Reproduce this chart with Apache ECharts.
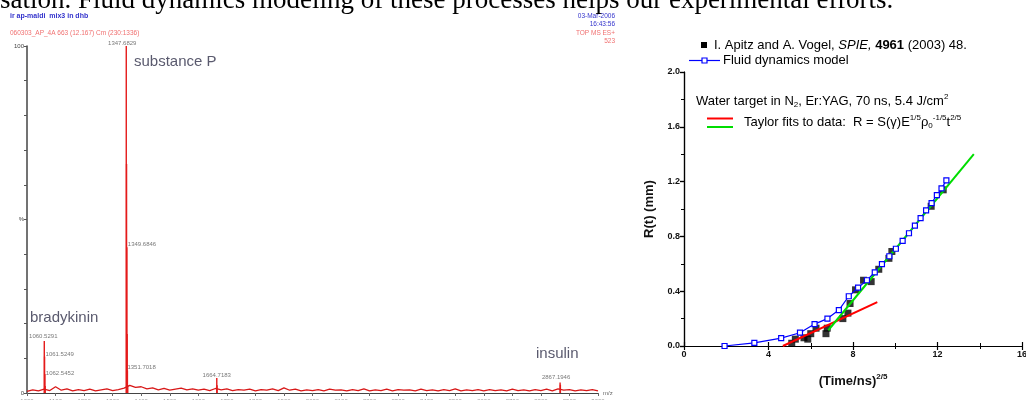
<!DOCTYPE html>
<html>
<head>
<meta charset="utf-8">
<script src="https://cdn.jsdelivr.net/npm/echarts@6/dist/echarts.min.js"></script>
<style>
html, body { margin: 0; padding: 0; background: #fff; }
#chart { width: 1026px; height: 400px; }
</style>
</head>
<body>
<div id="chart"></div>
<script>
// ---- left: MALDI spectrum (m/z, % intensity) ----
var peakMz  = [1060.5291, 1061.5249, 1062.5452, 1063.53, 1347.6829, 1348.69, 1349.6846, 1350.69, 1351.7018, 1352.70, 1664.7183, 1665.72, 2867.1946, 2868.20];
var peakPct = [15, 10.5, 5.5, 2, 100, 66, 42, 17, 6.5, 2.2, 4.3, 2.2, 3.0, 2.4];
var labelMz = [1060.5291, 1061.5249, 1062.5452, 1347.6829, 1349.6846, 1351.7018, 1664.7183, 2867.1946];
// baseline noise read every 20 Da from 1000 to 3000
var noiseMz0 = 1000, noiseDa = 20;
var noisePct = [
  0.5, 0.9, 0.6, 1.1, 0.7, 1.8, 0.8, 1.2, 0.6, 1.0,
  0.7, 1.1, 0.6, 0.9, 1.2, 0.7, 1.0, 1.4, 2.2, 1.6,
  1.8, 1.2, 1.5, 0.9, 1.3, 0.8, 1.1, 1.4, 0.9, 1.2,
  0.8, 1.1, 0.7, 1.3, 0.9, 1.2, 0.7, 1.0, 0.8, 1.1,
  0.6, 1.0, 0.8, 1.2, 0.7, 1.5, 0.8, 1.1, 0.6, 0.9,
  0.7, 1.0, 0.6, 1.1, 0.8, 0.9, 0.6, 1.0, 0.7, 1.2,
  0.6, 0.9, 0.7, 1.1, 0.6, 1.0, 0.8, 0.9, 0.6, 1.1,
  0.7, 0.9, 0.6, 1.0, 0.7, 1.2, 0.6, 0.9, 0.7, 1.0,
  0.6, 1.0, 0.7, 0.9, 0.6, 1.1, 0.7, 0.9, 0.6, 1.0,
  0.7, 1.1, 0.6, 1.2, 0.8, 1.0, 0.6, 0.9, 0.7, 1.0,
  0.6
];

// ---- right: R(t) vs (Time/ns)^2/5 ----
var apitzX = [5.1, 5.27, 5.68, 5.86, 6.0, 6.25, 6.72, 6.78, 7.52, 7.76, 7.86, 8.12, 8.5, 8.86, 9.22, 9.7, 9.84, 11.7, 12.27];
var apitzY = [0.02, 0.05, 0.06, 0.05, 0.09, 0.13, 0.09, 0.13, 0.2, 0.24, 0.31, 0.41, 0.48, 0.47, 0.56, 0.64, 0.69, 1.02, 1.14];
var modelX = [1.92, 3.33, 4.6, 5.49, 6.18, 6.79, 7.33, 7.8, 8.24, 8.66, 9.03, 9.37, 9.72, 10.03, 10.35, 10.65, 10.93, 11.2, 11.46, 11.72, 11.97, 12.19, 12.42];
var modelY = [0.0, 0.023, 0.058, 0.097, 0.16, 0.2, 0.262, 0.363, 0.426, 0.48, 0.538, 0.598, 0.655, 0.71, 0.767, 0.823, 0.878, 0.934, 0.99, 1.043, 1.102, 1.15, 1.209];
var redFitX = [4.68, 9.15], redFitY = [0, 0.32];
var greenFitX = [6.83, 13.72], greenFitY = [0.115, 1.40];

function zip(xs, ys) {
  return xs.map(function (x, i) { return [x, ys[i]]; });
}

var noiseData = noisePct.map(function (v, i) { return [noiseMz0 + i * noiseDa, v]; });
var peakData = zip(peakMz, peakPct);

// where each peak label sits (top = centred above, right = beside the stick)
var labelPlace = [
  { position: 'top', distance: 2, offset: [-1, 0] },
  { position: 'right', distance: 1, offset: [0, -2] },
  { position: 'right', distance: 1, offset: [0, -1] },
  { position: 'top', distance: 0, offset: [-4, 0] },
  { position: 'right', distance: 1, offset: [0, -3] },
  { position: 'right', distance: 0, offset: [0, -3] },
  { position: 'top', distance: 0, offset: [0, 0] },
  { position: 'top', distance: 2, offset: [-4, 0] }
];
var labelData = labelMz.map(function (m, i) {
  var pct = peakPct[peakMz.indexOf(m)];
  return { value: [m, pct], label: labelPlace[i] };
});

var supRich = {
  sup: { fontSize: 8, padding: [0, 0, 8, 0] },
  sub: { fontSize: 8, padding: [7, 0, 0, 0] }
};
var LEG = '13px "Liberation Sans", Arial';

var chart = echarts.init(document.getElementById('chart'));
chart.setOption({
  animation: false,
  textStyle: { fontFamily: 'Liberation Sans, Arial, sans-serif' },
  grid: [
    { left: 27, top: 46, width: 571, height: 347, outerBoundsMode: 'none' },
    { left: 684, top: 72, width: 338, height: 274, outerBoundsMode: 'none' }
  ],
  xAxis: [
    {
      gridIndex: 0, type: 'value', min: 1000, max: 3000, interval: 100,
      axisLine: { lineStyle: { color: '#444', width: 1 } },
      axisTick: { length: 3, lineStyle: { color: '#666' } },
      axisLabel: { fontSize: 6, color: '#999', margin: 5, formatter: function (v) { return String(v); } },
      splitLine: { show: false }
    },
    {
      gridIndex: 1, type: 'value', min: 0, max: 16, interval: 4,
      axisLine: { lineStyle: { color: '#000', width: 1.2 } },
      axisTick: { length: 4, lineStyle: { color: '#000', width: 1.2 } },
      minorTick: { show: true, splitNumber: 2, length: 3, lineStyle: { color: '#000', width: 1 } },
      axisLabel: { fontSize: 9, fontWeight: 'bold', color: '#111', margin: 4 },
      splitLine: { show: false },
      name: '(Time/ns){sup|2/5}', nameLocation: 'middle', nameGap: 27,
      nameTextStyle: {
        fontSize: 13, fontWeight: 'bold', color: '#111',
        rich: { sup: { fontSize: 8, fontWeight: 'bold', padding: [0, 0, 9, 0] } }
      }
    },
    {
      gridIndex: 1, type: 'value', position: 'top', min: 0, max: 16, interval: 4,
      axisLine: { lineStyle: { color: '#000', width: 1.2 } },
      axisTick: { length: 4, lineStyle: { color: '#000', width: 1.2 } },
      minorTick: { show: true, splitNumber: 2, length: 3, lineStyle: { color: '#000', width: 1 } },
      axisLabel: { show: false },
      splitLine: { show: false }
    }
  ],
  yAxis: [
    {
      gridIndex: 0, type: 'value', min: 0, max: 100, interval: 10,
      axisLine: { show: true, lineStyle: { color: '#444', width: 1.5 } },
      axisTick: { show: true, length: 3, lineStyle: { color: '#555' } },
      axisLabel: {
        fontSize: 6, color: '#444', margin: 3,
        formatter: function (v) { return v === 100 ? '100' : v === 50 ? '%' : v === 0 ? '0' : ''; }
      },
      splitLine: { show: false }
    },
    {
      gridIndex: 1, type: 'value', min: 0, max: 2, interval: 0.4,
      axisLine: { show: true, lineStyle: { color: '#000', width: 1.2 } },
      axisTick: { show: true, length: 4, lineStyle: { color: '#000', width: 1.2 } },
      minorTick: { show: true, splitNumber: 2, length: 3, lineStyle: { color: '#000', width: 1 } },
      axisLabel: {
        fontSize: 9, fontWeight: 'bold', color: '#111', margin: 4,
        formatter: function (v) { return v.toFixed(1); }
      },
      splitLine: { show: false },
      name: 'R(t) (mm)', nameLocation: 'middle', nameGap: 28,
      nameTextStyle: { fontSize: 13, fontWeight: 'bold', color: '#111' }
    },
    {
      gridIndex: 1, type: 'value', position: 'right', min: 0, max: 2, interval: 0.4,
      axisLine: { show: true, lineStyle: { color: '#000', width: 1.2 } },
      axisTick: { show: true, inside: true, length: 4, lineStyle: { color: '#000', width: 1.2 } },
      minorTick: { show: true, splitNumber: 2, length: 3, lineStyle: { color: '#000', width: 1 } },
      axisLabel: { show: false },
      splitLine: { show: false }
    }
  ],
  series: [
    {
      name: 'noise', type: 'line', xAxisIndex: 0, yAxisIndex: 0,
      data: noiseData, symbol: 'none',
      lineStyle: { color: '#d81818', width: 1.3 }
    },
    {
      name: 'peaks', type: 'bar', xAxisIndex: 0, yAxisIndex: 0,
      data: peakData, barWidth: 1.4, barGap: '-100%',
      itemStyle: { color: '#e41a1a' }
    },
    {
      name: 'peak labels', type: 'scatter', xAxisIndex: 0, yAxisIndex: 0,
      data: labelData, symbolSize: 0, silent: true,
      label: {
        show: true, fontSize: 6, color: '#555',
        formatter: function (p) { return p.value[0].toFixed(4); }
      }
    },
    {
      name: 'I. Apitz and A. Vogel', type: 'scatter', xAxisIndex: 1, yAxisIndex: 1,
      data: zip(apitzX, apitzY), symbol: 'rect', symbolSize: 7,
      itemStyle: { color: '#000' }
    },
    {
      name: 'Fluid dynamics model', type: 'line', xAxisIndex: 1, yAxisIndex: 1,
      data: zip(modelX, modelY), symbol: 'rect', symbolSize: 5,
      itemStyle: { color: '#fff', borderColor: '#0000ff', borderWidth: 1.2 },
      lineStyle: { color: '#0000ff', width: 1.2 }
    },
    {
      name: 'Taylor red', type: 'line', xAxisIndex: 1, yAxisIndex: 1,
      data: zip(redFitX, redFitY), symbol: 'none',
      lineStyle: { color: '#ff0000', width: 2 }
    },
    {
      name: 'Taylor green', type: 'line', xAxisIndex: 1, yAxisIndex: 1,
      data: zip(greenFitX, greenFitY), symbol: 'none',
      lineStyle: { color: '#00dd00', width: 2 }
    }
  ],
  graphic: [
    // slide text, cut off at the top
    { type: 'text', x: 0, y: 1, style: { text: 'sation. Fluid dynamics modeling of these processes helps our experimental efforts.', font: '27px "Liberation Serif", "Times New Roman", serif', fill: '#000', verticalAlign: 'middle' } },
    // spectrum header
    { type: 'text', x: 10, y: 16, style: { text: 'ir ap-maldi  mix3 in dhb', font: 'bold 7px "Liberation Sans", Arial', fill: '#3333cc', verticalAlign: 'middle' } },
    { type: 'text', x: 10, y: 33, style: { text: '060303_AP_4A 663 (12.167) Cm (230:1336)', font: '6.5px "Liberation Sans", Arial', fill: '#f07070', verticalAlign: 'middle' } },
    { type: 'text', x: 615, y: 16, style: { text: '03-Mar-2006', font: '6.5px "Liberation Sans", Arial', fill: '#3333cc', align: 'right', verticalAlign: 'middle' } },
    { type: 'text', x: 615, y: 24, style: { text: '16:43:56', font: '6.5px "Liberation Sans", Arial', fill: '#3333cc', align: 'right', verticalAlign: 'middle' } },
    { type: 'text', x: 615, y: 33, style: { text: 'TOP MS ES+', font: '6.5px "Liberation Sans", Arial', fill: '#f07070', align: 'right', verticalAlign: 'middle' } },
    { type: 'text', x: 615, y: 41.5, style: { text: '523', font: '6.5px "Liberation Sans", Arial', fill: '#f07070', align: 'right', verticalAlign: 'middle' } },
    { type: 'text', x: 603, y: 393, style: { text: 'm/z', font: '6px "Liberation Sans", Arial', fill: '#666', verticalAlign: 'middle' } },
    // compound names
    { type: 'text', x: 134, y: 62, style: { text: 'substance P', font: '15px "Liberation Sans", Arial', fill: '#5a5a6e', verticalAlign: 'middle' } },
    { type: 'text', x: 30, y: 318, style: { text: 'bradykinin', font: '15px "Liberation Sans", Arial', fill: '#5a5a6e', verticalAlign: 'middle' } },
    { type: 'text', x: 536, y: 354, style: { text: 'insulin', font: '15px "Liberation Sans", Arial', fill: '#5a5a6e', verticalAlign: 'middle' } },
    // right plot legend
    { type: 'rect', shape: { x: 701, y: 42, width: 6, height: 6 }, style: { fill: '#000' } },
    { type: 'text', x: 714, y: 45.5, style: {
        text: 'I. Apitz and A. Vogel, {i|SPIE,} {b|4961} (2003) 48.',
        font: LEG, fill: '#000', verticalAlign: 'middle',
        rich: { i: { fontStyle: 'italic', fontSize: 13 }, b: { fontWeight: 'bold', fontSize: 13 } }
    } },
    { type: 'line', shape: { x1: 689, y1: 60.5, x2: 720, y2: 60.5 }, style: { stroke: '#0000ff', lineWidth: 1.2 } },
    { type: 'rect', shape: { x: 702, y: 58, width: 5, height: 5 }, style: { fill: '#fff', stroke: '#0000ff', lineWidth: 1.2 } },
    { type: 'text', x: 723, y: 60.5, style: { text: 'Fluid dynamics model', font: LEG, fill: '#000', verticalAlign: 'middle' } },
    // annotation inside the plot
    { type: 'text', x: 696, y: 101, style: {
        text: 'Water target in N{sub|2}, Er:YAG, 70 ns, 5.4 J/cm{sup|2}',
        font: LEG, fill: '#000', verticalAlign: 'middle', rich: supRich
    } },
    { type: 'line', shape: { x1: 707, y1: 118.5, x2: 733, y2: 118.5 }, style: { stroke: '#ff0000', lineWidth: 2 } },
    { type: 'line', shape: { x1: 707, y1: 127, x2: 733, y2: 127 }, style: { stroke: '#00dd00', lineWidth: 2 } },
    { type: 'text', x: 744, y: 122, style: {
        text: 'Taylor fits to data:  R = S(\u03b3)E{sup|1/5}\u03c1{sub|0}{sup|-1/5}t{sup|2/5}',
        font: LEG, fill: '#000', verticalAlign: 'middle', rich: supRich
    } }
  ]
});
</script>
</body>
</html>
